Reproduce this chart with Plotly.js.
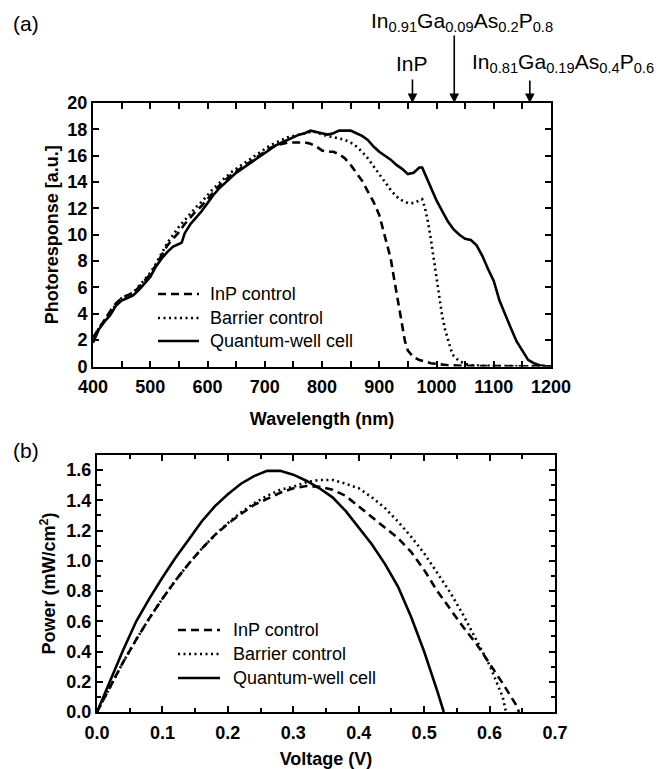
<!DOCTYPE html>
<html>
<head>
<meta charset="utf-8">
<script src="https://cdn.plot.ly/plotly-3.0.1.min.js"></script>
<style>
html,body{margin:0;padding:0;background:#fff;}
#chart{width:668px;height:769px;}
</style>
</head>
<body>
<div id="chart"></div>
<script>
// ---------- Panel (a): photoresponse vs wavelength ----------
const wlInP = [400,410,420,430,440,450,460,470,480,490,500,510,520,530,540,550,560,570,580,590,600,610,620,630,640,650,660,670,680,690,700,710,720,730,740,750,760,770,780,790,800,810,820,830,840,850,860,870,880,890,900,910,920,925,930,935,940,945,950,960,970,980,990,1000,1020,1050,1100,1150,1200];
const prInP = [2.2,2.9,3.6,4.2,4.8,5.2,5.4,5.6,6.0,6.5,7.0,7.7,8.5,9.2,9.7,10.2,10.8,11.3,11.8,12.2,12.7,13.2,13.7,14.1,14.5,14.8,15.1,15.4,15.7,16.0,16.3,16.6,16.8,16.9,17.0,17.0,17.0,17.0,16.9,16.7,16.4,16.3,16.3,16.1,15.8,15.3,14.7,14.1,13.3,12.5,11.5,9.9,8.2,6.9,5.6,4.2,2.9,1.9,1.2,0.7,0.5,0.35,0.25,0.2,0.1,0.05,0.02,0.01,0.0];

const wlBarrier = [400,410,420,430,440,450,460,470,480,490,500,510,520,530,540,550,560,570,580,590,600,610,620,630,640,650,660,670,680,690,700,710,720,730,740,750,760,770,780,790,800,810,820,830,840,850,860,870,880,890,900,910,920,930,940,950,960,970,975,980,985,990,995,1000,1005,1010,1015,1020,1025,1030,1040,1050,1060,1080,1120,1200];
const prBarrier = [2.0,2.9,3.5,4.1,4.7,5.2,5.4,5.6,6.1,6.6,7.1,7.8,8.6,9.4,10.0,10.6,11.1,11.6,12.1,12.5,13.0,13.5,13.9,14.3,14.7,15.0,15.3,15.6,15.9,16.2,16.5,16.8,17.0,17.2,17.4,17.5,17.6,17.7,17.8,17.8,17.6,17.5,17.4,17.3,17.2,17.0,16.7,16.3,15.8,15.2,14.6,14.0,13.4,12.9,12.6,12.4,12.4,12.6,12.7,12.0,11.0,9.7,8.2,6.6,5.1,3.8,2.8,2.0,1.3,0.8,0.4,0.2,0.1,0.05,0.02,0.0];

const wlQW = [400,410,420,430,440,450,460,470,480,490,500,510,520,530,540,550,555,560,570,580,590,600,610,620,630,640,650,660,670,680,690,700,710,720,730,740,750,760,770,780,790,800,810,820,830,840,850,860,870,880,890,900,910,920,930,940,950,960,970,975,980,990,1000,1010,1020,1030,1040,1050,1060,1070,1080,1090,1100,1110,1120,1130,1140,1150,1160,1170,1180,1190,1200];
const prQW = [1.8,2.8,3.4,3.9,4.6,5.0,5.2,5.4,5.8,6.3,6.8,7.6,8.2,8.7,9.1,9.3,9.4,10.1,10.8,11.3,11.8,12.4,13.0,13.5,13.9,14.3,14.7,15.0,15.3,15.6,15.9,16.2,16.5,16.8,17.0,17.2,17.4,17.6,17.7,17.9,17.8,17.7,17.6,17.7,17.9,17.9,17.9,17.7,17.5,17.2,16.7,16.3,16.0,15.7,15.3,15.0,14.6,14.7,15.1,15.1,14.6,13.6,12.6,11.8,11.0,10.4,10.0,9.7,9.6,9.2,8.4,7.4,6.5,5.0,3.9,2.9,1.9,1.2,0.5,0.25,0.1,0.03,0.0];

// ---------- Panel (b): power vs voltage ----------
const vInP = [0,0.02,0.04,0.06,0.08,0.10,0.12,0.14,0.16,0.18,0.20,0.22,0.24,0.26,0.28,0.30,0.32,0.34,0.36,0.38,0.40,0.42,0.44,0.46,0.48,0.50,0.52,0.54,0.56,0.58,0.60,0.62,0.64,0.645];
const pInP = [0,0.17,0.33,0.48,0.62,0.75,0.87,0.98,1.08,1.17,1.245,1.31,1.37,1.41,1.45,1.48,1.495,1.49,1.47,1.43,1.36,1.29,1.22,1.15,1.06,0.94,0.80,0.68,0.56,0.45,0.32,0.19,0.05,0.0];

const vBarrier = [0,0.02,0.04,0.06,0.08,0.10,0.12,0.14,0.16,0.18,0.20,0.22,0.24,0.26,0.28,0.30,0.32,0.34,0.36,0.38,0.40,0.42,0.44,0.46,0.48,0.50,0.52,0.54,0.56,0.58,0.60,0.62,0.625];
const pBarrier = [0,0.17,0.33,0.48,0.62,0.75,0.87,0.98,1.08,1.17,1.25,1.32,1.38,1.43,1.47,1.49,1.52,1.535,1.535,1.51,1.48,1.42,1.35,1.26,1.16,1.05,0.92,0.79,0.64,0.48,0.31,0.10,0.0];

const vQW = [0,0.02,0.04,0.06,0.08,0.10,0.12,0.14,0.16,0.18,0.20,0.22,0.24,0.26,0.28,0.30,0.32,0.34,0.36,0.38,0.40,0.42,0.44,0.46,0.48,0.50,0.52,0.53];
const pQW = [0,0.21,0.41,0.60,0.75,0.89,1.02,1.14,1.26,1.36,1.44,1.51,1.56,1.595,1.595,1.57,1.53,1.48,1.42,1.33,1.22,1.11,0.98,0.83,0.63,0.40,0.14,0.0];

const seriesNames = ['InP control','Barrier control','Quantum-well cell'];
const arrowLabels = ['InP','In<sub>0.91</sub>Ga<sub>0.09</sub>As<sub>0.2</sub>P<sub>0.8</sub>','In<sub>0.81</sub>Ga<sub>0.19</sub>As<sub>0.4</sub>P<sub>0.6</sub>'];
const arrowWl = [958, 1031, 1163];

const W = 668, H = 769;
const FONT = 'Liberation Sans, Arial, Helvetica, sans-serif';
const lw = 2.6;
const dashes = ['8px,5px', '2px,3.5px', 'solid'];

const traces = [
  {x: wlInP, y: prInP, name: seriesNames[0], mode:'lines', line:{color:'#000', width:lw, dash:dashes[0]}, xaxis:'x', yaxis:'y'},
  {x: wlBarrier, y: prBarrier, name: seriesNames[1], mode:'lines', line:{color:'#000', width:lw, dash:dashes[1]}, xaxis:'x', yaxis:'y'},
  {x: wlQW, y: prQW, name: seriesNames[2], mode:'lines', line:{color:'#000', width:lw, dash:dashes[2]}, xaxis:'x', yaxis:'y'},
  {x: vInP, y: pInP, name: seriesNames[0], mode:'lines', line:{color:'#000', width:lw, dash:dashes[0]}, xaxis:'x2', yaxis:'y2'},
  {x: vBarrier, y: pBarrier, name: seriesNames[1], mode:'lines', line:{color:'#000', width:lw, dash:dashes[1]}, xaxis:'x2', yaxis:'y2'},
  {x: vQW, y: pQW, name: seriesNames[2], mode:'lines', line:{color:'#000', width:lw, dash:dashes[2]}, xaxis:'x2', yaxis:'y2'}
];

function px(v){return v/W;}
function py(v){return 1 - v/H;}

const titleFont = {family:FONT, size:18, color:'#000', weight:'bold'};
const axBase = {
  showline:true, linewidth:2, linecolor:'#000', mirror:'allticks',
  ticks:'inside', ticklen:6, tickwidth:2, tickcolor:'#000',
  showgrid:false, zeroline:false,
  tickfont:{family:FONT, size:18, color:'#000', weight:'bold'}
};
function ax(extra){ return Object.assign(JSON.parse(JSON.stringify(axBase)), extra); }

// manual legends (line samples + labels) for both panels
const legendA = {x0:158, x1:199, textX:208, rows:[294, 318, 341]};
const legendB = {x0:178, x1:220, textX:231, rows:[630, 654, 678]};
const shapes = [];
const annotations = [];
[legendA, legendB].forEach(lg => {
  seriesNames.forEach((nm, i) => {
    shapes.push({type:'line', xref:'paper', yref:'paper', x0:px(lg.x0), x1:px(lg.x1), y0:py(lg.rows[i]), y1:py(lg.rows[i]),
      line:{color:'#000', width:lw, dash:dashes[i]}});
    annotations.push({text:nm, xref:'paper', yref:'paper', x:px(lg.textX), y:py(lg.rows[i]), xanchor:'left', yanchor:'middle',
      showarrow:false, font:{family:FONT, size:18, color:'#000'}});
  });
});

const lblFont = {family:FONT, size:21, color:'#000'};
annotations.push(
  {text:'(a)', xref:'paper', yref:'paper', x:px(26), y:py(23), xanchor:'center', yanchor:'middle', showarrow:false, font:lblFont},
  {text:'(b)', xref:'paper', yref:'paper', x:px(26), y:py(450), xanchor:'center', yanchor:'middle', showarrow:false, font:lblFont},
  {text:arrowLabels[0], xref:'x', yref:'paper', x:arrowWl[0], y:py(63), xanchor:'center', yanchor:'middle', showarrow:false, font:lblFont},
  {text:arrowLabels[1], xref:'paper', yref:'paper', x:px(462), y:py(22), xanchor:'center', yanchor:'middle', showarrow:false, font:lblFont},
  {text:arrowLabels[2], xref:'paper', yref:'paper', x:px(563), y:py(63), xanchor:'center', yanchor:'middle', showarrow:false, font:lblFont},
  {text:'', xref:'x', yref:'y', x:arrowWl[0], y:20, ax:0, ay:-25, showarrow:true, arrowhead:2, arrowsize:1.2, arrowwidth:1.6, arrowcolor:'#000'},
  {text:'', xref:'x', yref:'y', x:arrowWl[1], y:20, ax:0, ay:-69, showarrow:true, arrowhead:2, arrowsize:1.2, arrowwidth:1.6, arrowcolor:'#000'},
  {text:'', xref:'x', yref:'y', x:arrowWl[2], y:20, ax:0, ay:-24, showarrow:true, arrowhead:2, arrowsize:1.2, arrowwidth:1.6, arrowcolor:'#000'}
);

const layout = {
  width: W, height: H,
  margin:{l:0, r:0, t:0, b:0},
  paper_bgcolor:'#fff', plot_bgcolor:'#fff',
  showlegend:false,
  xaxis: ax({domain:[px(93), px(551)], range:[400,1200], tick0:400, dtick:100, ticklabelstandoff:3,
    minor:{dtick:50, ticks:'inside', ticklen:6, tickwidth:2, tickcolor:'#000'},
    anchor:'y', title:{text:'Wavelength (nm)', standoff:16, font:titleFont}}),
  yaxis: ax({domain:[py(366.5), py(103)], range:[0,20], tick0:0, dtick:2, anchor:'x',
    title:{text:'Photoresponse [a.u.]', standoff:4, font:titleFont}}),
  xaxis2: ax({domain:[px(97), px(555)], range:[0,0.7], tick0:0, dtick:0.1, tickformat:'.1f', ticklabelstandoff:3,
    minor:{dtick:0.05, ticks:'inside', ticklen:4, tickwidth:2, tickcolor:'#000'},
    anchor:'y2', title:{text:'Voltage (V)', standoff:16, font:titleFont}}),
  yaxis2: ax({domain:[py(712), py(455)], range:[0,1.7], tick0:0, dtick:0.2, tickformat:'.1f',
    minor:{dtick:0.1, ticks:'inside', ticklen:4, tickwidth:2, tickcolor:'#000'},
    anchor:'x2', title:{text:'Power (mW/cm<sup>2</sup>)', standoff:6, font:titleFont}}),
  shapes: shapes,
  annotations: annotations
};

Plotly.newPlot('chart', traces, layout, {displayModeBar:false, staticPlot:true});
</script>
</body>
</html>
